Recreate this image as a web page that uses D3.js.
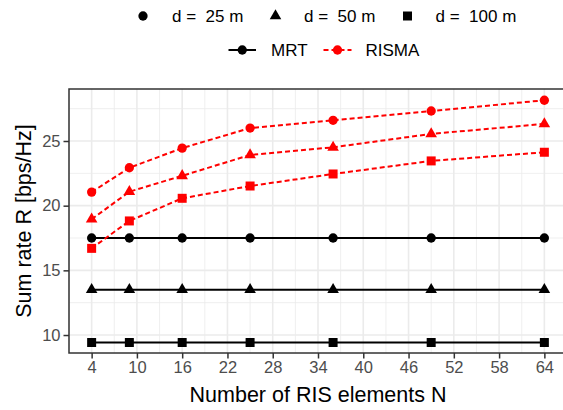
<!DOCTYPE html>
<html>
<head>
<meta charset="utf-8">
<script src="https://cdn.jsdelivr.net/npm/d3@7"></script>
<style>
  html, body { margin: 0; padding: 0; background: #fff; overflow: hidden; }
  svg { display: block; font-family: "Liberation Sans", Arial, sans-serif; }
</style>
</head>
<body>
<svg id="chart" width="563" height="410"></svg>
<script>
// ---- data ----
const N = [4, 9, 16, 25, 36, 49, 64];
const xTicks = [4, 10, 16, 22, 28, 34, 40, 46, 52, 58, 64];
const yTicks = [10, 15, 20, 25];
const distanceLabels = ["d =  25 m", "d =  50 m", "d =  100 m"];
const methodLabels = ["MRT", "RISMA"];

const mrt_d25 = [17.5, 17.5, 17.5, 17.5, 17.5, 17.5, 17.5];
const mrt_d50 = [13.5, 13.5, 13.5, 13.5, 13.5, 13.5, 13.5];
const mrt_d100 = [9.42, 9.42, 9.42, 9.42, 9.42, 9.42, 9.42];
const risma_d25 = [21.05, 22.93, 24.45, 26.0, 26.6, 27.32, 28.15];
const risma_d50 = [18.95, 21.08, 22.31, 23.92, 24.51, 25.55, 26.32];
const risma_d100 = [16.70, 18.82, 20.57, 21.52, 22.45, 23.46, 24.13];

// ---- layout ----
const svg = d3.select("#chart");
const panel = { left: 69, right: 567, top: 89, bottom: 353 };
const x = d3.scaleLinear().domain([1, 67]).range([panel.left, panel.right]);
const y = d3.scaleLinear().domain([8.61, 29.02]).range([panel.bottom, panel.top]);

const colors = { MRT: "#000000", RISMA: "#FF0000" };
const shapeTypes = [d3.symbolCircle, d3.symbolTriangle, d3.symbolSquare];
const shapeSizes = [68, 58, 81];

const series = [
  { method: "MRT", d: 0, values: mrt_d25 },
  { method: "MRT", d: 1, values: mrt_d50 },
  { method: "MRT", d: 2, values: mrt_d100 },
  { method: "RISMA", d: 0, values: risma_d25 },
  { method: "RISMA", d: 1, values: risma_d50 },
  { method: "RISMA", d: 2, values: risma_d100 }
];

// panel background
svg.append("rect").attr("x", panel.left).attr("y", panel.top)
  .attr("width", panel.right - panel.left).attr("height", panel.bottom - panel.top)
  .attr("fill", "#fff");

const grid = svg.append("g");
// minor grid
const xMinor = xTicks.slice(0, -1).map((t, i) => (t + xTicks[i + 1]) / 2)
  .concat([xTicks[0] - 3, xTicks[xTicks.length - 1] + 3]);
const yMinor = [12.5, 17.5, 22.5, 27.5];
grid.selectAll(".xminor").data(xMinor).join("line")
  .attr("x1", d => x(d)).attr("x2", d => x(d))
  .attr("y1", panel.top).attr("y2", panel.bottom)
  .attr("stroke", "#EBEBEB").attr("stroke-width", 0.8);
grid.selectAll(".yminor").data(yMinor).join("line")
  .attr("x1", panel.left).attr("x2", panel.right)
  .attr("y1", d => y(d)).attr("y2", d => y(d))
  .attr("stroke", "#EBEBEB").attr("stroke-width", 0.8);
// major grid
grid.selectAll(".xmajor").data(xTicks).join("line")
  .attr("x1", d => x(d)).attr("x2", d => x(d))
  .attr("y1", panel.top).attr("y2", panel.bottom)
  .attr("stroke", "#EBEBEB").attr("stroke-width", 1.6);
grid.selectAll(".ymajor").data(yTicks).join("line")
  .attr("x1", panel.left).attr("x2", panel.right)
  .attr("y1", d => y(d)).attr("y2", d => y(d))
  .attr("stroke", "#EBEBEB").attr("stroke-width", 1.6);

// lines
const line = d3.line().x((d, i) => x(N[i])).y(d => y(d));
svg.append("g").selectAll("path").data(series).join("path")
  .attr("d", s => line(s.values))
  .attr("fill", "none")
  .attr("stroke", s => colors[s.method])
  .attr("stroke-width", 2)
  .attr("stroke-dasharray", s => s.method === "RISMA" ? "5,3" : null);

// points
const pts = svg.append("g");
series.forEach(s => {
  pts.selectAll(null).data(s.values).join("path")
    .attr("transform", (d, i) => `translate(${x(N[i])},${y(d)})`)
    .attr("d", d3.symbol().type(shapeTypes[s.d]).size(shapeSizes[s.d]))
    .attr("fill", colors[s.method]);
});

// panel border
svg.append("rect").attr("x", panel.left).attr("y", panel.top)
  .attr("width", panel.right - panel.left).attr("height", panel.bottom - panel.top)
  .attr("fill", "none").attr("stroke", "#333333").attr("stroke-width", 1.5);

// axes
const xAxis = d3.axisBottom(x).tickValues(xTicks).tickSize(5.5).tickPadding(3);
const gx = svg.append("g").attr("transform", `translate(0,${panel.bottom})`).call(xAxis);
const yAxis = d3.axisLeft(y).tickValues(yTicks).tickSize(5.5).tickPadding(3);
const gy = svg.append("g").attr("transform", `translate(${panel.left},0)`).call(yAxis);
[gx, gy].forEach(g => {
  g.select(".domain").remove();
  g.selectAll(".tick line").attr("stroke", "#333333").attr("stroke-width", 1.5);
  g.selectAll(".tick text").attr("fill", "#4D4D4D")
    .style("font-size", "16.5px").style("font-family", "Liberation Sans, Arial, sans-serif");
});

// axis titles
svg.append("text").attr("x", (panel.left + panel.right) / 2).attr("y", 401.5)
  .attr("text-anchor", "middle").style("font-size", "21.5px").attr("fill", "#000")
  .text("Number of RIS elements N");
svg.append("text")
  .attr("transform", `translate(31,${(panel.top + panel.bottom) / 2}) rotate(-90)`)
  .attr("text-anchor", "middle").style("font-size", "21.5px").attr("fill", "#000")
  .text("Sum rate R [bps/Hz]");

// legend row 1: shapes
const leg1 = svg.append("g");
const leg1Marker = [143, 275.5, 407.5];
const leg1Text = [172, 304, 435.5];
distanceLabels.forEach((lab, i) => {
  leg1.append("path")
    .attr("transform", `translate(${leg1Marker[i]},16)`)
    .attr("d", d3.symbol().type(shapeTypes[i]).size(shapeSizes[i]))
    .attr("fill", "#000");
  leg1.append("text").attr("x", leg1Text[i]).attr("y", 21.5)
    .style("font-size", "17px").style("white-space", "pre").attr("xml:space", "preserve")
    .attr("fill", "#000").text(lab);
});

// legend row 2: methods
const leg2 = svg.append("g");
const leg2Key = [[228.5, 256], [323.5, 351.5]];
const leg2Text = [271, 365.5];
methodLabels.forEach((lab, i) => {
  const [a, b] = leg2Key[i];
  leg2.append("line").attr("x1", a).attr("x2", b).attr("y1", 50).attr("y2", 50)
    .attr("stroke", colors[lab]).attr("stroke-width", 2)
    .attr("stroke-dasharray", lab === "RISMA" ? "5,3" : null);
  leg2.append("path").attr("transform", `translate(${(a + b) / 2},50)`)
    .attr("d", d3.symbol().type(d3.symbolCircle).size(68))
    .attr("fill", colors[lab]);
  leg2.append("text").attr("x", leg2Text[i]).attr("y", 56)
    .style("font-size", "17px").attr("fill", "#000").text(lab);
});
</script>
</body>
</html>
